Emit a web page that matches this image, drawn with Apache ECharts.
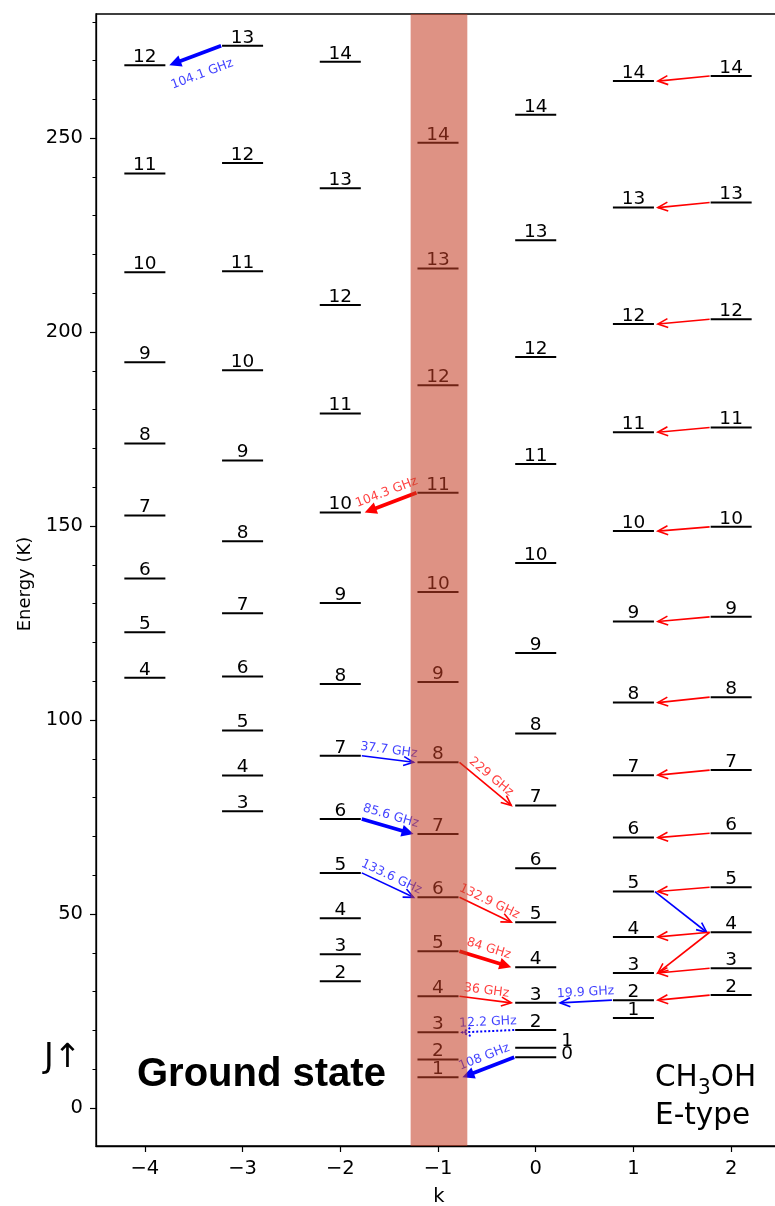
<!DOCTYPE html>
<html><head><meta charset="utf-8">
<script src="https://cdn.jsdelivr.net/npm/echarts@6/dist/echarts.min.js"></script>
<style>html,body{margin:0;padding:0;background:#fff}#c{width:775px;height:1206px}</style>
</head><body><div id="c"></div>
<script>
// ---------------- data ----------------
const kTicks = [-4, -3, -2, -1, 0, 1, 2];
const yMajorTicks = [0, 50, 100, 150, 200, 250];
const yMinorTicks = [10, 20, 30, 40, 60, 70, 80, 90, 110, 120, 130, 140, 160, 170, 180, 190, 210, 220, 230, 240, 260, 270, 280];

// [J, energy (K)] for each k ladder
const levelsKm4 = [[4,110.9],[5,122.6],[6,136.5],[7,152.7],[8,171.3],[9,192.2],[10,215.4],[11,240.9],[12,268.8]];
const levelsKm3 = [[3,76.5],[4,85.7],[5,97.3],[6,111.2],[7,127.5],[8,146.1],[9,166.9],[10,190.2],[11,215.7],[12,243.6],[13,273.8]];
const levelsKm2 = [[2,32.7],[3,39.6],[4,48.9],[5,60.6],[6,74.5],[7,90.8],[8,109.3],[9,130.2],[10,153.5],[11,179.0],[12,207.0],[13,237.1],[14,269.7]];
const levelsKm1 = [[1,7.9],[2,12.5],[3,19.5],[4,28.8],[5,40.4],[6,54.3],[7,70.6],[8,89.1],[9,109.8],[10,133.0],[11,158.6],[12,186.3],[13,216.4],[14,248.8]];
const levelsK0  = [[0,13.1],[1,15.5],[2,20.1],[3,27.1],[4,36.3],[5,47.9],[6,61.8],[7,78.0],[8,96.5],[9,117.3],[10,140.5],[11,166.0],[12,193.6],[13,223.7],[14,256.0]];
const levelsK1  = [[1,23.2],[2,27.8],[3,34.8],[4,44.1],[5,55.8],[6,69.7],[7,85.8],[8,104.5],[9,125.4],[10,148.7],[11,174.2],[12,202.1],[13,232.1],[14,264.7]];
const levelsK2  = [[2,29.1],[3,36.0],[4,45.3],[5,56.9],[6,70.8],[7,87.1],[8,105.9],[9,126.6],[10,149.8],[11,175.4],[12,203.3],[13,233.4],[14,266.0]];

const ladders = [[-4, levelsKm4], [-3, levelsKm3], [-2, levelsKm2], [-1, levelsKm1], [0, levelsK0], [1, levelsK1], [2, levelsK2]];

// highlighted k range (ground state k = -1 ladder)
const bandRange = [-1.28, -0.70];

// transitions: [kFrom, JFrom, kTo, JTo, label, colour, kind]
const transitions = [
  [-3, 13, -4, 12, '104.1 GHz', 'blue', 'thick'],
  [-1, 11, -2, 10, '104.3 GHz', 'red', 'thick'],
  [-2, 7, -1, 8, '37.7 GHz', 'blue', 'thin'],
  [-2, 6, -1, 7, '85.6 GHz', 'blue', 'thick'],
  [-2, 5, -1, 6, '133.6 GHz', 'blue', 'thin'],
  [-1, 8, 0, 7, '229 GHz', 'red', 'thin'],
  [-1, 6, 0, 5, '132.9 GHz', 'red', 'thin'],
  [-1, 5, 0, 4, '84 GHz', 'red', 'thick'],
  [-1, 4, 0, 3, '36 GHz', 'red', 'thin'],
  [1, 2, 0, 3, '19.9 GHz', 'blue', 'thin'],
  [0, 2, -1, 3, '12.2 GHz', 'blue', 'dotted'],
  [0, 0, -1, 1, '108 GHz', 'blue', 'thick'],
  [1, 5, 2, 4, '', 'blue', 'thin'],
  [2, 4, 1, 3, '', 'red', 'thin']
];
// J_2 -> J_1 (25 GHz series) arrows from k=2 to k=1
const series25GHzJ = [2, 3, 4, 5, 6, 7, 8, 9, 10, 11, 12, 13, 14];
const labelsBelow = ['104.1 GHz'];

// ---------------- build ----------------
const HALF = 0.21;
const levelData = [];
ladders.forEach(([k, arr]) => arr.forEach(([J, E]) => levelData.push([k, E, J])));
function energy(k, J) {
  const lad = ladders.find(l => l[0] === k)[1];
  return lad.find(l => l[0] === J)[1];
}
const allTransitions = transitions.slice();
series25GHzJ.forEach(J => allTransitions.push([2, J, 1, J, '', 'red', 'thin']));
const arrowData = allTransitions.map((t, i) => {
  const dir = Math.sign(t[2] - t[0]);
  return [t[0] + dir * 0.22, energy(t[0], t[1]), t[2] - dir * 0.25, energy(t[2], t[3]), i];
});

const COLORS = { blue: '#0000ff', red: '#ff0000' };
const TEXTCOL = { blue: 'rgba(30,30,255,0.85)', red: 'rgba(255,30,30,0.85)' };
const KIND = {
  thin:   { lw: 1.6, headLen: 10, headW: 4.5, filled: false, dash: null, off: 9 },
  thick:  { lw: 3.8, headLen: 12, headW: 6, filled: true, dash: null, off: 11 },
  dotted: { lw: 2, headLen: 8, headW: 4, filled: false, dash: [2, 2], off: 9 }
};
const FONT = '"DejaVu Sans", "Noto Sans", sans-serif';

function renderLevel(params, api) {
  const k = api.value(0), E = api.value(1), J = api.value(2);
  const a = api.coord([k - HALF, E]), b = api.coord([k + HALF, E]);
  let lab;
  if (k === 0 && J <= 1) {
    lab = { x: b[0] + 5, y: a[1] + (J === 1 ? -7 : -2.5), align: 'left', va: 'middle' };
  } else {
    lab = { x: (a[0] + b[0]) / 2, y: a[1] + 1.5, align: 'center', va: 'bottom' };
  }
  return {
    type: 'group',
    children: [
      { type: 'line', shape: { x1: a[0], y1: a[1], x2: b[0], y2: b[1] }, style: { stroke: '#000', lineWidth: 2 } },
      { type: 'text', x: lab.x, y: lab.y, style: { text: String(J), fill: '#000', font: '18.5px ' + FONT, align: lab.align, verticalAlign: lab.va } }
    ]
  };
}

function renderArrow(params, api) {
  const t = allTransitions[api.value(4)];
  const p1 = api.coord([api.value(0), api.value(1)]);
  const p2 = api.coord([api.value(2), api.value(3)]);
  const st = KIND[t[6]];
  const color = COLORS[t[5]];
  const dx = p2[0] - p1[0], dy = p2[1] - p1[1];
  const len = Math.hypot(dx, dy);
  const ux = dx / len, uy = dy / len;
  const children = [];
  const shaftEnd = st.filled ? [p2[0] - ux * st.headLen * 0.7, p2[1] - uy * st.headLen * 0.7] : p2;
  children.push({ type: 'line', shape: { x1: p1[0], y1: p1[1], x2: shaftEnd[0], y2: shaftEnd[1] },
    style: { stroke: color, lineWidth: st.lw, lineDash: st.dash, lineCap: 'butt' } });
  const bx = p2[0] - ux * st.headLen, by = p2[1] - uy * st.headLen;
  const nx = -uy, ny = ux;
  const pa = [bx + nx * st.headW, by + ny * st.headW], pb = [bx - nx * st.headW, by - ny * st.headW];
  if (st.filled) {
    children.push({ type: 'polygon', shape: { points: [pa, p2, pb] }, style: { fill: color } });
  } else {
    children.push({ type: 'polyline', shape: { points: [pa, p2, pb] }, style: { stroke: color, fill: null, lineWidth: st.lw, lineDash: st.dash } });
  }
  if (t[4]) {
    let vx = ux, vy = uy;
    if (vx < 0) { vx = -vx; vy = -vy; }
    const upx = vy, upy = -vx;
    const mx = (p1[0] + p2[0]) / 2, my = (p1[1] + p2[1]) / 2;
    const off = labelsBelow.includes(t[4]) ? -20 : st.off;
    children.push({ type: 'text', x: mx + upx * off, y: my + upy * off, rotation: -Math.atan2(vy, vx),
      style: { text: t[4], fill: TEXTCOL[t[5]], font: '12.5px ' + FONT, align: 'center', verticalAlign: 'middle' } });
  }
  return { type: 'group', children };
}

function renderBand(params, api) {
  const x1 = api.coord([api.value(0), 0])[0], x2 = api.coord([api.value(1), 0])[0];
  const cs = params.coordSys;
  return { type: 'rect', shape: { x: x1, y: cs.y, width: x2 - x1, height: cs.height }, style: { fill: 'rgba(196,60,35,0.56)' } };
}

// measure text for CH3OH
const ctx = document.createElement('canvas').getContext('2d');
function tw(txt, font) { ctx.font = font; return ctx.measureText(txt).width; }
const bigFont = '29.5px ' + FONT, subFont = '20.5px ' + FONT;
const chX = 655, chW = tw('CH', bigFont), subW = tw('3', subFont);

const chart = echarts.init(document.getElementById('c'), null, { renderer: 'canvas' });
const axisLine = { show: true, onZero: false, lineStyle: { color: '#000', width: 1.3 } };
chart.setOption({
  animation: false,
  backgroundColor: '#fff',
  grid: { left: 96, top: 14, width: 684, height: 1132, outerBoundsMode: 'none', containLabel: false,
    show: true, borderColor: '#000', borderWidth: 1.3, backgroundColor: 'transparent' },
  xAxis: {
    type: 'value', min: -4.5, max: 2.5,
    axisLine: axisLine,
    axisTick: { show: true, customValues: kTicks, length: 6, lineStyle: { color: '#000', width: 1.2 } },
    axisLabel: { show: true, customValues: kTicks, color: '#000', fontSize: 19.5, fontFamily: 'DejaVu Sans', margin: 13,
      formatter: v => (v < 0 ? '\u2212' + Math.abs(v) : String(v)) },
    splitLine: { show: false }
  },
  yAxis: [
    { type: 'value', min: -9.8, max: 282, position: 'left',
      axisLine: axisLine,
      axisTick: { show: true, customValues: yMajorTicks, length: 6, lineStyle: { color: '#000', width: 1.2 } },
      axisLabel: { show: true, customValues: yMajorTicks, color: '#000', fontSize: 19.5, fontFamily: 'DejaVu Sans', margin: 13 },
      splitLine: { show: false } },
    { type: 'value', min: -9.8, max: 282, position: 'left', offset: 0,
      axisLine: { show: false, onZero: false },
      axisTick: { show: true, customValues: yMinorTicks, length: 3.5, lineStyle: { color: '#000', width: 1 } },
      axisLabel: { show: false }, splitLine: { show: false } }
  ],
  series: [
    { type: 'custom', name: 'levels', renderItem: renderLevel, data: levelData, z: 2, silent: true,
      encode: { x: 0, y: 1 } },
    { type: 'custom', name: 'transitions', renderItem: renderArrow, data: arrowData, z: 3, silent: true,
      encode: { x: [0, 2], y: [1, 3] } },
    { type: 'custom', name: 'band', renderItem: renderBand, data: [[bandRange[0], bandRange[1]]], z: 10, silent: true,
      encode: { x: [0, 1] } }
  ],
  graphic: [
    { type: 'text', x: 25, y: 584, rotation: Math.PI / 2, style: { text: 'Energy (K)', font: '18px ' + FONT, fill: '#000', align: 'center', verticalAlign: 'middle' } },
    { type: 'text', x: 439, y: 1197, style: { text: 'k', font: '19.5px ' + FONT, fill: '#000', align: 'center', verticalAlign: 'middle' } },
    { type: 'text', x: 44, y: 1058, style: { text: 'J\u2191', font: '33px ' + FONT, fill: '#000', align: 'left', verticalAlign: 'middle' } },
    { type: 'text', x: 137, y: 1075, style: { text: 'Ground state', font: 'bold 40px "Liberation Sans", Arial, sans-serif', fill: '#000', align: 'left', verticalAlign: 'middle' } },
    { type: 'text', x: chX, y: 1078, style: { text: 'CH', font: bigFont, fill: '#000', align: 'left', verticalAlign: 'middle' } },
    { type: 'text', x: chX + chW, y: 1089, style: { text: '3', font: subFont, fill: '#000', align: 'left', verticalAlign: 'middle' } },
    { type: 'text', x: chX + chW + subW, y: 1078, style: { text: 'OH', font: bigFont, fill: '#000', align: 'left', verticalAlign: 'middle' } },
    { type: 'text', x: chX, y: 1116, style: { text: 'E-type', font: bigFont, fill: '#000', align: 'left', verticalAlign: 'middle' } }
  ]
});
</script>
</body></html>
